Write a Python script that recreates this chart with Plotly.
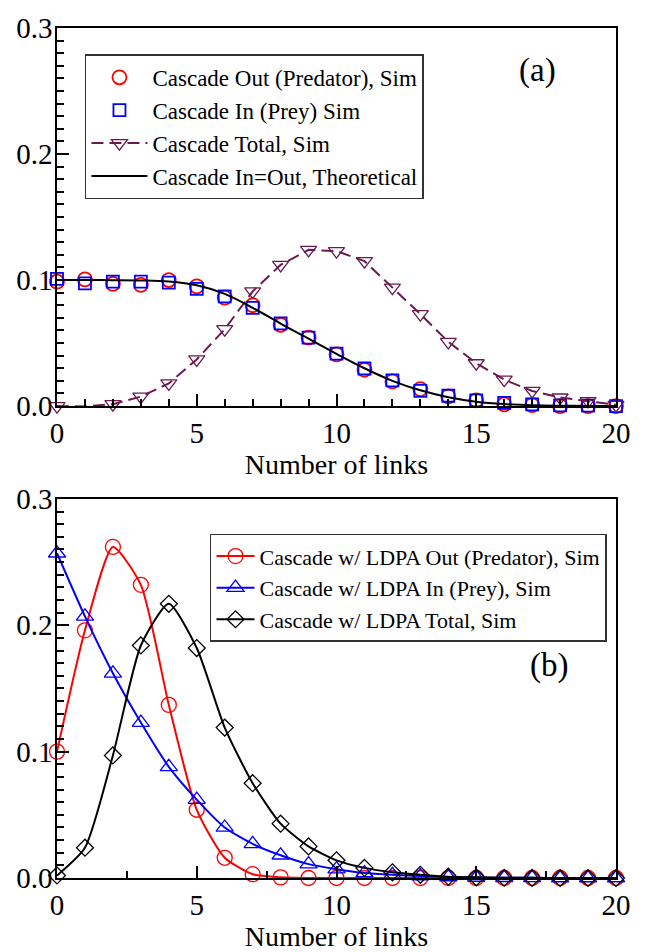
import plotly.graph_objects as go

# ---------------- data ----------------
links = list(range(21))

# panel (a)
a_out_sim = [0.0987, 0.1005, 0.0970, 0.0962, 0.1000, 0.0950, 0.0860, 0.0800, 0.0645, 0.0543,
             0.0410, 0.0288, 0.0196, 0.0135, 0.0077, 0.0046, 0.0013, 0.0008, 0.0000, 0.0000, 0.0000]
a_in_sim = [0.1010, 0.0974, 0.0987, 0.0987, 0.0980, 0.0930, 0.0870, 0.0780, 0.0656, 0.0543,
            0.0416, 0.0298, 0.0204, 0.0120, 0.0082, 0.0046, 0.0026, 0.0013, 0.0005, 0.0003, 0.0000]
a_total_sim = [0.0000, -0.0003, 0.0015, 0.0075, 0.0180, 0.0370, 0.0610, 0.0910, 0.1120, 0.1240,
               0.1230, 0.1150, 0.0940, 0.0730, 0.0510, 0.0340, 0.0210, 0.0120, 0.0068, 0.0040, 0.0010]
a_theory = [0.1000, 0.1000, 0.0999, 0.0997, 0.0988, 0.0958, 0.0890, 0.0780, 0.0655, 0.0535,
            0.0415, 0.0300, 0.0200, 0.0125, 0.0070, 0.0035, 0.0016, 0.0007, 0.0003, 0.0001, 0.0000]

# panel (b)
b_out = [0.100, 0.196, 0.262, 0.232, 0.137, 0.054, 0.016, 0.003, 0.0005, 0.0, 0.0,
         0.0, 0.0, 0.0, 0.0, 0.0, 0.0, 0.0, 0.0, 0.0, 0.0]
b_in = [0.257, 0.207, 0.162, 0.123, 0.088, 0.062, 0.040, 0.027, 0.018, 0.011, 0.007,
        0.004, 0.0025, 0.0015, 0.0008, 0.0004, 0.0002, 0.0001, 0.0, 0.0, 0.0]
b_total = [0.002, 0.024, 0.097, 0.184, 0.217, 0.182, 0.119, 0.075, 0.043, 0.025, 0.014,
           0.008, 0.0045, 0.0025, 0.001, 0.0005, 0.0002, 0.0001, 0.0, 0.0, 0.0]

labels_a = ["Cascade Out (Predator), Sim", "Cascade In (Prey) Sim",
            "Cascade Total, Sim", "Cascade In=Out, Theoretical"]
labels_b = ["Cascade w/ LDPA Out (Predator), Sim", "Cascade w/ LDPA In (Prey), Sim",
            "Cascade w/ LDPA Total, Sim"]

RED = "#ff0000"
BLUE = "#0000ff"
MAROON = "#6b1a4f"
FONT = "Liberation Serif"

fig = go.Figure()

# ---- panel (a) ----
fig.add_trace(go.Scatter(x=links, y=a_out_sim, mode="markers", name=labels_a[0],
                         marker=dict(symbol="circle-open", size=14, color=RED, line=dict(width=1.8)),
                         xaxis="x", yaxis="y", legend="legend", cliponaxis=False))
fig.add_trace(go.Scatter(x=links, y=a_in_sim, mode="markers", name=labels_a[1],
                         marker=dict(symbol="square-open", size=12, color=BLUE, line=dict(width=1.8)),
                         xaxis="x", yaxis="y", legend="legend", cliponaxis=False))
fig.add_trace(go.Scatter(x=links, y=a_total_sim, mode="lines+markers", name=labels_a[2],
                         line=dict(color=MAROON, width=2, dash="12px,6px"),
                         marker=dict(symbol="triangle-down-open", size=14, color=MAROON, line=dict(width=1.3)),
                         xaxis="x", yaxis="y", legend="legend", cliponaxis=False))
fig.add_trace(go.Scatter(x=links, y=a_theory, mode="lines", name=labels_a[3],
                         line=dict(color="black", width=2, shape="spline"),
                         xaxis="x", yaxis="y", legend="legend"))

# ---- panel (b) ----
fig.add_trace(go.Scatter(x=links, y=b_out, mode="lines+markers", name=labels_b[0],
                         line=dict(color=RED, width=2, shape="spline", smoothing=0.6),
                         marker=dict(symbol="circle-open", size=15, color=RED, line=dict(width=1.3)),
                         xaxis="x2", yaxis="y2", legend="legend2", cliponaxis=False))
fig.add_trace(go.Scatter(x=links, y=b_in, mode="lines+markers", name=labels_b[1],
                         line=dict(color=BLUE, width=2, shape="spline", smoothing=0.6),
                         marker=dict(symbol="triangle-up-open", size=15, color=BLUE, line=dict(width=1.3)),
                         xaxis="x2", yaxis="y2", legend="legend2", cliponaxis=False))
fig.add_trace(go.Scatter(x=links, y=b_total, mode="lines+markers", name=labels_b[2],
                         line=dict(color="black", width=2, shape="spline", smoothing=0.6),
                         marker=dict(symbol="diamond-open", size=13, color="black", line=dict(width=1.3)),
                         xaxis="x2", yaxis="y2", legend="legend2", cliponaxis=False))


def minor_tick(step):
    return dict(dtick=step, ticks="inside", ticklen=7, tickwidth=1.5, tickcolor="black")


def x_axis(anchor, step):
    return dict(range=[0, 20], dtick=5, ticks="inside", ticklen=12, tickwidth=1.8,
                tickcolor="black", showline=True, linecolor="black", linewidth=1.5, mirror=True,
                showgrid=False, zeroline=False, domain=[0, 1], anchor=anchor,
                tickfont=dict(family=FONT, size=29, color="black"),
                minor=minor_tick(step),
                title=dict(text="Number of links", font=dict(family=FONT, size=28, color="black"),
                           standoff=0))


def y_axis(anchor, domain):
    return dict(range=[0, 0.3], dtick=0.1, tickformat=".1f", ticks="inside", ticklen=12,
                tickwidth=1.8, tickcolor="black", showline=True, linecolor="black", linewidth=1.5,
                mirror=True, showgrid=False, zeroline=False, ticklabelstandoff=-3,
                domain=domain, anchor=anchor,
                tickfont=dict(family=FONT, size=29, color="black"),
                minor=minor_tick(0.01))


fig.update_layout(
    width=650, height=952,
    margin=dict(l=57, r=34, t=17, b=56),
    paper_bgcolor="white", plot_bgcolor="white",
    font=dict(family=FONT, color="black"),
    xaxis=x_axis("y", 1),
    yaxis=y_axis("x", [0.5552, 1]),
    xaxis2=x_axis("y2", 2.5),
    yaxis2=y_axis("x2", [0, 0.446]),
    legend=dict(x=0.05, y=0.969, xanchor="left", yanchor="top", xref="paper", yref="paper",
                bgcolor="white", bordercolor="#333333", borderwidth=1.5, itemwidth=56,
                font=dict(family=FONT, size=23, color="black"), tracegroupgap=0),
    legend2=dict(x=0.2737, y=0.405, xanchor="left", yanchor="top", xref="paper", yref="paper",
                 bgcolor="white", bordercolor="#333333", borderwidth=1.5, itemwidth=38,
                 font=dict(family=FONT, size=22, color="black"), tracegroupgap=0),
    showlegend=True,
    annotations=[
        dict(text="(a)", x=17.2, y=0.266, xref="x", yref="y", showarrow=False,
             font=dict(family=FONT, size=33, color="black")),
        dict(text="(b)", x=17.6, y=0.168, xref="x2", yref="y2", showarrow=False,
             font=dict(family=FONT, size=33, color="black")),
    ],
)

fig.write_html("out.html")
